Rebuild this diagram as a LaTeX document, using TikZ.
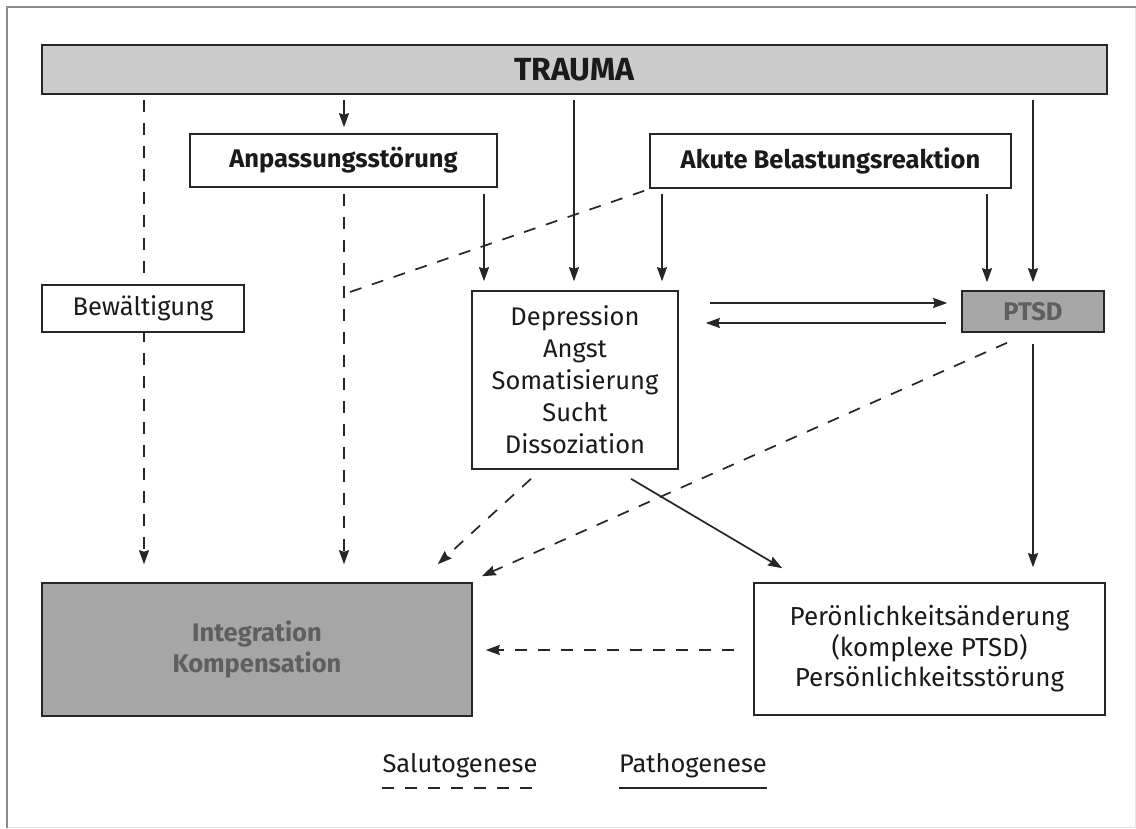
\documentclass[tikz,border=0pt]{standalone}
\usepackage{fontspec}
\setmainfont{Fira Sans}
\usetikzlibrary{arrows.meta}
\pgfdeclarelayer{bg}
\pgfsetlayers{bg,main}
\definecolor{framegray}{HTML}{8C8C8C}
\definecolor{framelight}{HTML}{E6E6E6}
\definecolor{boxline}{HTML}{262626}
\definecolor{txt}{HTML}{1A1A1A}
\definecolor{lightfill}{HTML}{CCCCCC}
\definecolor{darkfill}{HTML}{A6A6A6}
\definecolor{graytxt}{HTML}{5F5F5F}
\newcommand{\regfont}{\fontsize{25.5}{32}\selectfont}
\newcommand{\boldfont}{\bfseries\fontsize{25.5}{31}\selectfont}
\begin{document}
\begin{tikzpicture}[x=1pt,y=-1pt,
  box/.style={draw=boxline, line width=1.6pt, fill=white, inner sep=0pt, align=center, text=txt, font=\regfont},
  boldbox/.style={box, font=\boldfont},
  grayboldbox/.style={box, fill=darkfill, text=graytxt, font=\boldfont},
  conn/.style={draw=boxline, line width=1.7pt, -{Stealth[length=14pt,width=10pt,inset=1.5pt]}},
  dsh/.style={conn, dash pattern=on 12pt off 11pt},
  plain/.style={draw=boxline, line width=1.7pt, dash pattern=on 12pt off 11pt},
  legtext/.style={inner sep=0pt, text=txt, font=\regfont, anchor=base},
]
\useasboundingbox (0,0) rectangle (1136,828);
\begin{pgfonlayer}{bg}
\fill[white] (0,0) rectangle (1136,828);
\end{pgfonlayer}
\draw[framelight, line width=1pt] (1135,7) -- (1135,827) -- (7,827);
\draw[framegray, line width=2.5pt] (7,828) -- (7,7) -- (1136,7);

% nodes
\node[boldbox, fill=lightfill, minimum width=1065pt, minimum height=49pt,
      font=\bfseries\fontsize{32}{34}\selectfont] (trauma) at (574.5,69.5) {TRAUMA};
\node[boldbox, minimum width=307pt, minimum height=53pt] (anp) at (343.5,160.5) {Anpassungsstörung};
\node[boldbox, minimum width=361pt, minimum height=54pt] (akute) at (830.5,161) {Akute Belastungsreaktion};
\node[box, minimum width=202pt, minimum height=47pt] (bew) at (143,308.5) {Bewältigung};
\node[box, minimum width=206pt, minimum height=178pt] (dep) at (575,380) {Depression\\Angst\\Somatisierung\\Sucht\\Dissoziation};
\node[grayboldbox, minimum width=142pt, minimum height=41pt] (ptsd) at (1033,311.5) {PTSD};
\node[grayboldbox, minimum width=430pt, minimum height=133pt] (integ) at (257,649.5) {Integration\\Kompensation};
\node[box, minimum width=351pt, minimum height=132pt, font=\fontsize{26}{30.5}\selectfont] (pers) at (929.5,649) {Perönlichkeitsänderung\\(komplexe PTSD)\\Persönlichkeitsstörung};

% legend
\node[legtext] (salu) at (460,772) {Salutogenese};
\node[legtext] (patho) at (693,772) {Pathogenese};
\draw[plain] ([yshift=-16pt]salu.base west) -- ([yshift=-16pt]salu.base east);
\draw[draw=boxline, line width=1.7pt] ([yshift=-16pt]patho.base west) -- ([yshift=-16pt]patho.base east);

% column helpers
\coordinate (c144) at (144,0);
\coordinate (c344) at (344,0);
\coordinate (c484) at (484,0);
\coordinate (c574) at (574,0);
\coordinate (c662) at (662,0);
\coordinate (c987) at (987,0);
\coordinate (c1033) at (1033,0);
\coordinate (r303) at (0,303);
\coordinate (r323) at (0,323);
\coordinate (r650) at (0,650);
\coordinate (m) at (350,292);

\begin{pgfonlayer}{bg}
\draw[dsh, shorten <=5pt, shorten >=18pt] (trauma.south -| c144) -- (integ.north -| c144);
\draw[conn, shorten <=5pt, shorten >=6pt] (trauma.south -| c344) -- (anp.north -| c344);
\draw[dsh, shorten <=6pt, shorten >=18pt] (anp.south -| c344) -- (integ.north -| c344);
\draw[conn, shorten <=5pt, shorten >=9pt] (trauma.south -| c574) -- (dep.north -| c574);
\draw[conn, shorten <=6pt, shorten >=9pt] (anp.south -| c484) -- (dep.north -| c484);
\draw[conn, shorten <=5pt, shorten >=9pt] (akute.south -| c662) -- (dep.north -| c662);
\draw[conn, shorten <=5pt, shorten >=8pt] (akute.south -| c987) -- (ptsd.north -| c987);
\draw[conn, shorten <=5pt, shorten >=8pt] (trauma.south -| c1033) -- (ptsd.north -| c1033);
\draw[conn, shorten <=11pt, shorten >=15pt] (ptsd.south -| c1033) -- (pers.north -| c1033);
\draw[plain] ([shift={(-5,2)}]akute.south west) -- (m);
\draw[conn, shorten <=31pt, shorten >=14pt] (dep.east |- r303) -- (ptsd.west |- r303);
\draw[conn, shorten <=15pt, shorten >=27pt] (ptsd.west |- r323) -- (dep.east |- r323);
\draw[dsh] ([shift={(-26,10)}]ptsd.south) -- ([shift={(9,-6)}]integ.north east);
\draw[dsh] ([shift={(-44,9)}]dep.south) -- ([shift={(-35,-18)}]integ.north east);
\draw[conn] ([shift={(56,9)}]dep.south) -- ([shift={(29,-14)}]pers.north west);
\draw[dsh, shorten <=19pt, shorten >=13pt] (pers.west |- r650) -- (integ.east |- r650);
\end{pgfonlayer}
\end{tikzpicture}
\end{document}
